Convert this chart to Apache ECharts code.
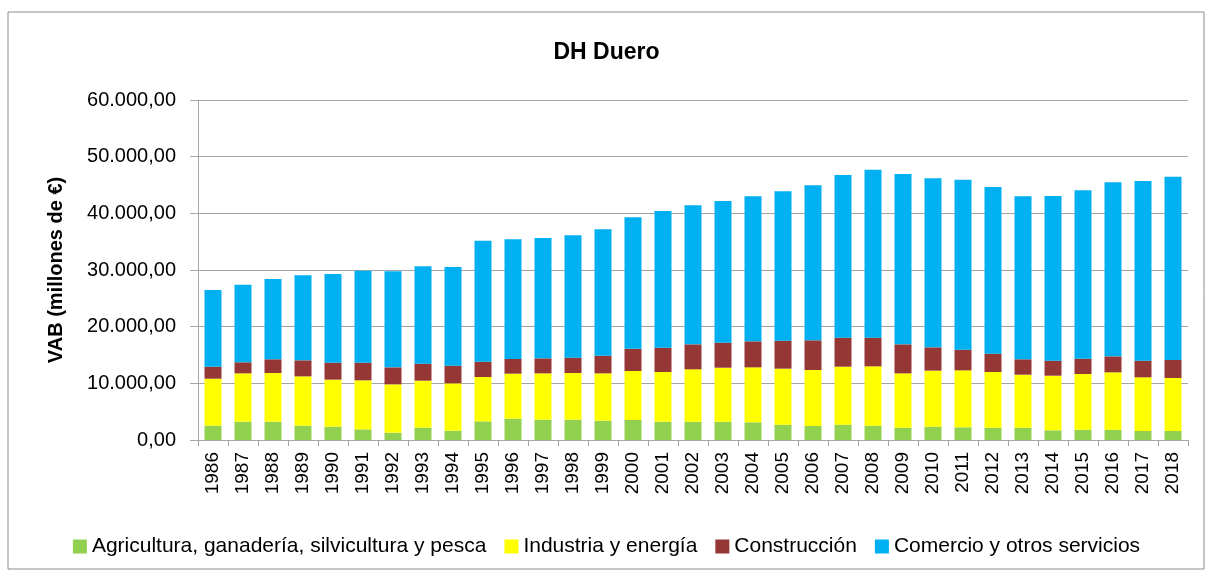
<!DOCTYPE html>
<html>
<head>
<meta charset="utf-8">
<script src="https://cdn.jsdelivr.net/npm/echarts@6/dist/echarts.min.js"></script>
<style>
  html, body { margin: 0; padding: 0; background: #fff; }
  #chart { width: 1213px; height: 576px; }
</style>
</head>
<body>
<div id="chart"></div>
<script>
var years = ['1986','1987','1988','1989','1990','1991','1992','1993','1994','1995','1996',
  '1997','1998','1999','2000','2001','2002','2003','2004','2005','2006','2007','2008',
  '2009','2010','2011','2012','2013','2014','2015','2016','2017','2018'];

var agricultura = [2530,3240,3240,2530,2350,1880,1290,2180,1650,3290,3760,
  3590,3590,3410,3530,3230,3230,3230,3120,2710,2470,2710,2530,
  2180,2350,2240,2180,2180,1710,1820,1820,1590,1590];
var industria = [8290,8520,8580,8700,8300,8650,8530,8290,8350,7830,7950,
  8170,8230,8350,8650,8770,9240,9530,9700,9880,9880,10230,10470,
  9580,9890,10050,9820,9350,9640,9830,10120,9470,9350];
var construccion = [2120,1950,2420,2830,3000,3120,3000,3000,3120,2700,2580,
  2650,2710,3120,3930,4290,4410,4420,4590,4940,5240,5120,5060,
  5120,4110,3650,3230,2710,2650,2700,2820,2940,3180];
var comercio = [13530,13700,14170,15000,15640,16230,16940,17180,17410,21350,21120,
  21240,21590,22300,23180,24120,24530,25000,25590,26350,27350,28700,29640,
  30060,29830,30000,29420,28760,29060,29710,30710,31700,32350];

var font = '"Liberation Sans", "DejaVu Sans", sans-serif';

function fmt(v) {
  var s = String(Math.round(v)).replace(/\B(?=(\d{3})+(?!\d))/g, '.');
  return s + ',00';
}

function serie(name, data, color) {
  return {
    name: name,
    type: 'bar',
    stack: 'total',
    barWidth: 17,
    itemStyle: { color: color },
    data: data
  };
}

var chart = echarts.init(document.getElementById('chart'));
chart.setOption({
  backgroundColor: '#fff',
  animation: false,
  graphic: [{
    type: 'rect',
    shape: { x: 8, y: 12, width: 1196, height: 557 },
    style: { fill: 'none', stroke: '#8c8c8c', lineWidth: 1 }
  }],
  title: {
    text: 'DH Duero',
    left: 'center',
    top: 36,
    textStyle: { fontFamily: font, fontSize: 23, fontWeight: 'bold', color: '#000' }
  },
  legend: {
    top: 531,
    left: 'center',
    itemWidth: 14,
    itemHeight: 14,
    itemGap: 18,
    icon: 'rect',
    textStyle: { fontFamily: font, fontSize: 21, color: '#000' },
    data: ['Agricultura, ganadería, silvicultura y pesca', 'Industria y energía', 'Construcción', 'Comercio y otros servicios']
  },
  grid: { left: 198, right: 25, top: 100, bottom: 136 },
  xAxis: {
    type: 'category',
    data: years,
    axisLine: { lineStyle: { color: '#a6a6a6' } },
    axisTick: { show: true, length: 6, lineStyle: { color: '#a6a6a6' } },
    axisLabel: { rotate: 90, fontFamily: font, fontSize: 19, color: '#000', margin: 12 }
  },
  yAxis: {
    type: 'value',
    min: 0,
    max: 60000,
    interval: 10000,
    name: 'VAB (millones de €)',
    nameLocation: 'middle',
    nameGap: 132,
    nameTextStyle: { fontFamily: font, fontSize: 20, fontWeight: 'bold', color: '#000' },
    axisLine: { show: true, lineStyle: { color: '#a6a6a6' } },
    axisTick: { show: true, length: 8, lineStyle: { color: '#a6a6a6' } },
    splitLine: { lineStyle: { color: '#a6a6a6' } },
    axisLabel: { fontFamily: font, fontSize: 20, color: '#000', margin: 22, formatter: fmt }
  },
  series: [
    serie('Agricultura, ganadería, silvicultura y pesca', agricultura, '#92d050'),
    serie('Industria y energía', industria, '#ffff00'),
    serie('Construcción', construccion, '#953735'),
    serie('Comercio y otros servicios', comercio, '#00b0f0')
  ]
});
</script>
</body>
</html>
